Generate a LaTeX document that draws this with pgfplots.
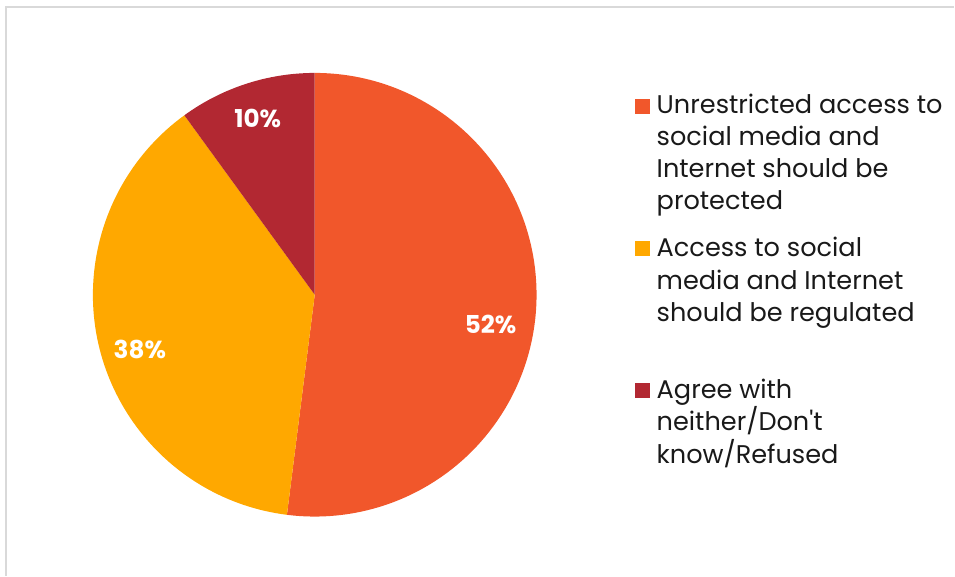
\documentclass[border=0pt]{standalone}
\usepackage{pgfplots}
\pgfplotsset{compat=1.18}
\usepackage{fontspec}
\setmainfont{Poppins}[Ligatures=TeXOff]
\definecolor{cA}{HTML}{F1572B}
\definecolor{cB}{HTML}{FFA800}
\definecolor{cC}{HTML}{B22832}
\definecolor{frame}{HTML}{D9D9D9}
\begin{document}
\begin{tikzpicture}
\begin{axis}[
  scale only axis, width=716.25pt, height=432pt,
  xmin=0, xmax=955, ymin=0, ymax=576,
  hide axis, clip=false,
]
\path (axis cs:0,0) rectangle (axis cs:955,576);
% frame
\draw[frame, line width=1.2pt] (axis cs:6,0) -- (axis cs:6,569) -- (axis cs:955,569);
% pie: values in percent
\pgfmathsetmacro{\R}{222*0.75}
\def\cx{315}\def\cy{281}
\edef\startang{90}
\foreach \v/\c in {52/cA,38/cB,10/cC}{
  \pgfmathsetmacro{\endang}{\startang-3.6*\v}
  \edef\temp{\noexpand\fill[\c] (axis cs:\cx,\cy) -- ++(\startang:\R pt) arc[start angle=\startang, end angle=\endang, radius=\R pt] -- cycle;}
  \temp
  \xdef\startang{\endang}
}
% labels
\begin{scope}[every node/.style={text=white, font=\bfseries\fontsize{18.5}{22}\selectfont}]
\node at (axis cs:491,251) {52\%};
\node at (axis cs:140,226) {38\%};
\node at (axis cs:258,457) {10\%};
\end{scope}
% legend
\fill[cA] (axis cs:636,477) rectangle (axis cs:651,462);
\fill[cB] (axis cs:636,335) rectangle (axis cs:651,320);
\fill[cC] (axis cs:636,193) rectangle (axis cs:651,178);
\begin{scope}[every node/.style={anchor=base west, inner sep=0pt, text=black!90, font=\fontsize{19.2}{22}\selectfont}]
\node at (axis cs:657,462) {Unrestricted access to};
\node at (axis cs:657,430) {social media and};
\node at (axis cs:657,398) {Internet should be};
\node at (axis cs:657,366) {protected};
\node at (axis cs:657,319) {Access to social};
\node at (axis cs:657,286) {media and Internet};
\node at (axis cs:657,254) {should be regulated};
\node at (axis cs:657,177) {Agree with};
\node at (axis cs:657,145) {neither/Don't};
\node at (axis cs:657,112) {know/Refused};
\end{scope}
\end{axis}
\end{tikzpicture}
\end{document}
